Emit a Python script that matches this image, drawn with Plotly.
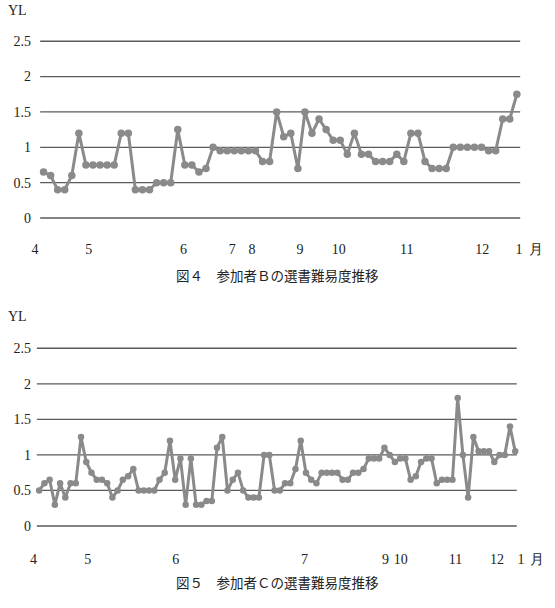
import plotly.graph_objects as go

# ---------------- data ----------------
yl_b = [0.65, 0.6, 0.4, 0.4, 0.6, 1.2, 0.75, 0.75, 0.75, 0.75, 0.75, 1.2, 1.2, 0.4, 0.4, 0.4,
        0.5, 0.5, 0.5, 1.25, 0.75, 0.75, 0.65, 0.7, 1.0, 0.95, 0.95, 0.95, 0.95, 0.95, 0.95,
        0.8, 0.8, 1.5, 1.15, 1.2, 0.7, 1.5, 1.2, 1.4, 1.25, 1.1, 1.1, 0.9, 1.2, 0.9, 0.9,
        0.8, 0.8, 0.8, 0.9, 0.8, 1.2, 1.2, 0.8, 0.7, 0.7, 0.7, 1.0, 1.0, 1.0, 1.0, 1.0,
        0.95, 0.95, 1.4, 1.4, 1.75]
yl_c = [0.5, 0.6, 0.65, 0.3, 0.6, 0.4, 0.6, 0.6, 1.25, 0.9, 0.75, 0.65, 0.65, 0.6, 0.4, 0.5,
        0.65, 0.7, 0.8, 0.5, 0.5, 0.5, 0.5, 0.65, 0.75, 1.2, 0.65, 0.95, 0.3, 0.95, 0.3, 0.3,
        0.35, 0.35, 1.1, 1.25, 0.5, 0.65, 0.75, 0.5, 0.4, 0.4, 0.4, 1.0, 1.0, 0.5, 0.5,
        0.6, 0.6, 0.8, 1.2, 0.75, 0.65, 0.6, 0.75, 0.75, 0.75, 0.75, 0.65, 0.65, 0.75, 0.75,
        0.8, 0.95, 0.95, 0.95, 1.1, 1.0, 0.9, 0.95, 0.95, 0.65, 0.7, 0.9, 0.95, 0.95, 0.6,
        0.65, 0.65, 0.65, 1.8, 1.0, 0.4, 1.25, 1.05, 1.05, 1.05, 0.9, 1.0, 1.0, 1.4, 1.05]

month_text_b = ["4", "5", "6", "7", "8", "9", "10", "11", "12", "1", "月"]
month_pos_b = [-1.2, 6.4, 19.8, 26.7, 29.5, 36.3, 41.8, 51.4, 62.1, 67.3, 69.75]
month_text_c = ["4", "5", "6", "7", "9", "10", "11", "12", "1", "月"]
month_pos_c = [-1.07, 9.28, 26.1, 50.7, 66.2, 69.1, 79.6, 87.5, 92.1, 95.1]

y_ticks = [0, 0.5, 1, 1.5, 2, 2.5]
y_tick_text = ["0", "0.5", "1", "1.5", "2", "2.5"]

caption_b = "図４　参加者Ｂの選書難易度推移"
caption_c = "図５　参加者Ｃの選書難易度推移"

# ---------------- style ----------------
SERIES = "#8a8a8a"
GRID = "#5a5a5a"
TXT = "#222222"
SERIF = "Liberation Serif"
SANS = "Noto Sans CJK JP"

fig = go.Figure()
fig.add_trace(go.Scatter(x=list(range(len(yl_b))), y=yl_b, mode="lines+markers",
                         line=dict(color=SERIES, width=3),
                         marker=dict(color=SERIES, size=7.5),
                         xaxis="x", yaxis="y", showlegend=False, cliponaxis=False))
fig.add_trace(go.Scatter(x=list(range(len(yl_c))), y=yl_c, mode="lines+markers",
                         line=dict(color=SERIES, width=3),
                         marker=dict(color=SERIES, size=6.5),
                         xaxis="x2", yaxis="y2", showlegend=False, cliponaxis=False))

xdom = [30 / 555, 545 / 555]
common_x = dict(showgrid=False, zeroline=False, showline=False, tickmode="array",
                tickfont=dict(family=SERIF, size=14, color=TXT), ticks="",
                ticklabelstandoff=9)
common_y = dict(showgrid=False, zeroline=False, showline=False, tickmode="array",
                tickvals=y_ticks, ticktext=y_tick_text,
                tickfont=dict(family=SERIF, size=14, color=TXT), ticks="")

fig.update_layout(
    width=555, height=608,
    margin=dict(l=0, r=0, t=0, b=0),
    paper_bgcolor="white", plot_bgcolor="white",
    xaxis=dict(domain=xdom, range=[-1.65, 70.99], tickvals=month_pos_b,
               ticktext=month_text_b, anchor="y", **common_x),
    yaxis=dict(domain=[1 - 230 / 608, 1 - 30 / 608], range=[-0.17, 2.659],
               anchor="x", **common_y),
    xaxis2=dict(domain=xdom, range=[-1.39, 96.7], tickvals=month_pos_c,
                ticktext=month_text_c, anchor="y2", **common_x),
    yaxis2=dict(domain=[1 - 540 / 608, 1 - 335 / 608], range=[-0.197, 2.686],
                anchor="x2", **common_y),
)

# horizontal grid lines (only across the plotted span)
shapes = []
for v in y_ticks:
    shapes.append(dict(type="line", xref="x", yref="y", x0=-0.48, x1=67.47, y0=v, y1=v,
                       line=dict(color=GRID, width=1.3), layer="below"))
    shapes.append(dict(type="line", xref="x2", yref="y2", x0=-0.44, x1=91.3, y0=v, y1=v,
                       line=dict(color=GRID, width=1.3), layer="below"))
fig.update_layout(shapes=shapes)

def label(text, px, py, font):
    return dict(text=text, x=px / 555, y=1 - py / 608, xref="paper", yref="paper",
                xanchor="center", yanchor="middle", showarrow=False, font=font)

ann = [
    label("YL", 16, 11, dict(family=SERIF, size=14, color=TXT)),
    label("YL", 16, 316, dict(family=SERIF, size=14, color=TXT)),
    label(caption_b, 276.5, 275, dict(family=SANS, size=13.5, color=TXT)),
    label(caption_c, 276.5, 581.7, dict(family=SANS, size=13.5, color=TXT)),
]
fig.update_layout(annotations=ann)

fig.write_html("out.html")
